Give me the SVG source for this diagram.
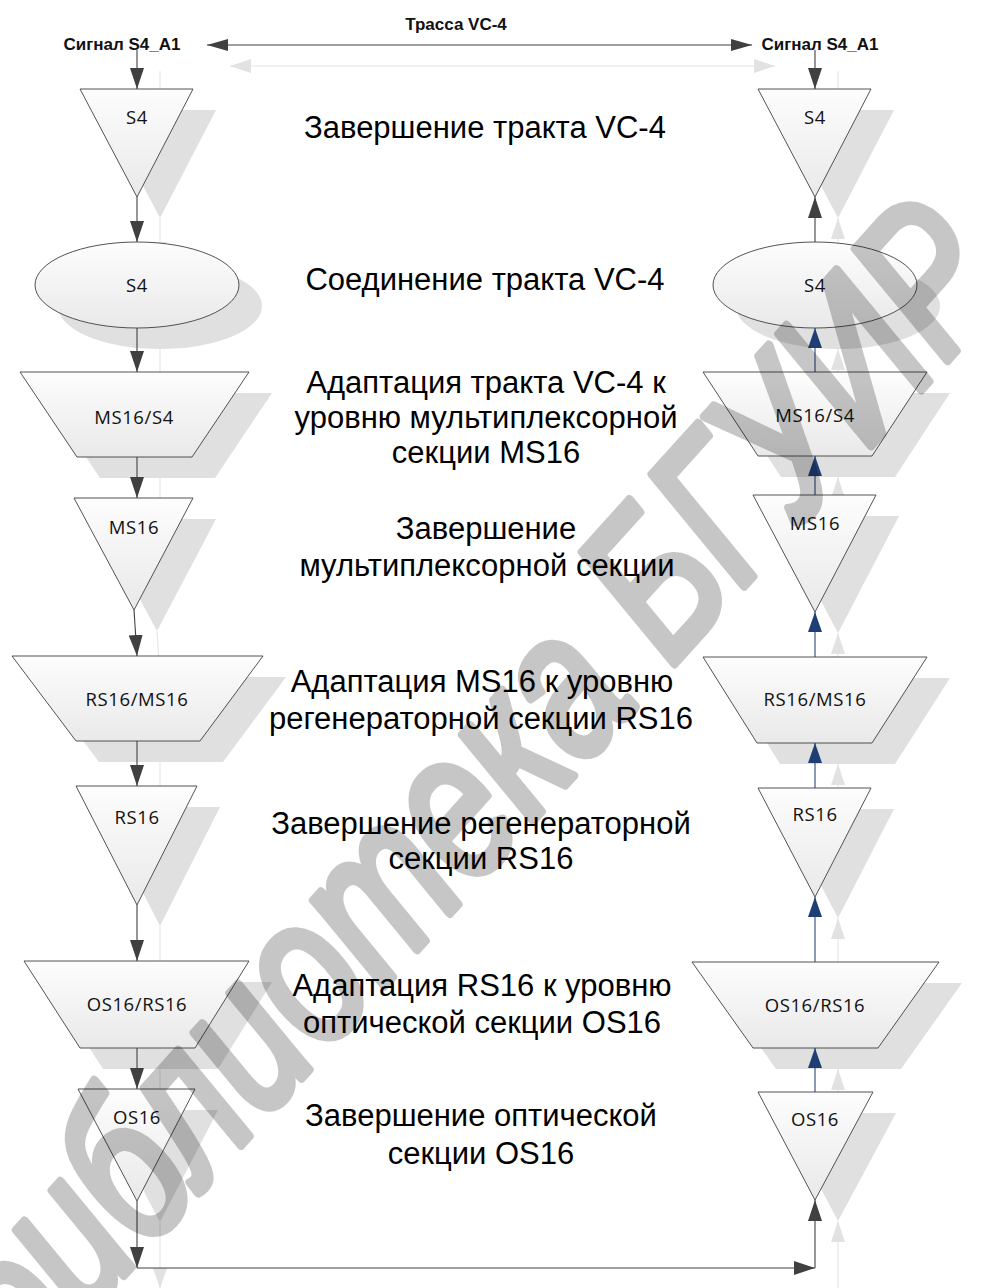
<svg xmlns="http://www.w3.org/2000/svg" width="1005" height="1288" viewBox="0 0 1005 1288">
  <style>
    .node { stroke: #404040; stroke-width: 0.9; fill: url(#nodeFill); }
    .shadow { fill: #e0e0e0; stroke: none; }
    .lbl { font-family: "Open Sans", "Liberation Sans", sans-serif; font-size: 18.5px; fill: #111; text-anchor: middle; letter-spacing: 0.6px; }
    .desc { font-family: "Liberation Sans", Arial, sans-serif; font-size: 31px; fill: #000; text-anchor: middle; }
    .head { font-family: "Liberation Sans", Arial, sans-serif; font-size: 17px; font-weight: bold; fill: #111; text-anchor: middle; }
    .wire { fill: none; stroke: #404040; stroke-width: 1.1; }
    .wire-blue { fill: none; stroke: #2a4878; stroke-width: 1.1; }
    .wire-shadow { fill: none; stroke: #e4e4e4; stroke-width: 1.1; }
    .mark { font-family: "Liberation Sans", Arial, sans-serif; font-style: italic; font-size: 160px; fill: #000; stroke: #000; stroke-width: 7; stroke-linejoin: round; }
  </style>
  <defs>
    <linearGradient id="nodeFill" x1="0" y1="0" x2="0" y2="1">
      <stop offset="0" stop-color="#fdfdfd"/>
      <stop offset="1" stop-color="#e9e9e9"/>
    </linearGradient>
    <marker id="arrDark" markerUnits="userSpaceOnUse" markerWidth="21" markerHeight="14" refX="21" refY="7" orient="auto">
      <path d="M0,0 L21,7 L0,14 z" fill="#404040"/>
    </marker>
    <marker id="arrDarkStart" markerUnits="userSpaceOnUse" markerWidth="21" markerHeight="12" refX="21" refY="6" orient="auto-start-reverse">
      <path d="M0,0 L21,6 L0,12 z" fill="#404040"/>
    </marker>
    <marker id="arrBlue" markerUnits="userSpaceOnUse" markerWidth="20" markerHeight="14" refX="20" refY="7" orient="auto">
      <path d="M0,0 L20,7 L0,14 z" fill="#1f3e74"/>
    </marker>
    <marker id="arrShadow" markerUnits="userSpaceOnUse" markerWidth="21" markerHeight="14" refX="21" refY="7" orient="auto-start-reverse">
      <path d="M0,0 L21,7 L0,14 z" fill="#e2e2e2"/>
    </marker>
  </defs>

  <!-- drop shadows of nodes and links -->
  <g id="shadows" transform="translate(23,21)">
    <g class="shadow">
      <polygon points="80,89 193,89 137,197"/>
      <ellipse cx="137" cy="285" rx="102" ry="43"/>
      <polygon points="20,372 249,372 192,457 77,457"/>
      <polygon points="74,498 193,498 134,610"/>
      <polygon points="12,656 263,656 200,741 76,741"/>
      <polygon points="76,786 197,786 137,905"/>
      <polygon points="24,961 249,961 195,1048 80,1048"/>
      <polygon points="78,1089 195,1089 137,1201"/>
      <polygon points="758,89 871,89 815,197"/>
      <ellipse cx="815" cy="285" rx="102" ry="43"/>
      <polygon points="703,372 927,372 872,456 758,456"/>
      <polygon points="753,495 876,495 815,612"/>
      <polygon points="703,657 927,657 872,743 757,743"/>
      <polygon points="758,788 871,788 815,897"/>
      <polygon points="692,962 939,962 878,1048 753,1048"/>
      <polygon points="758,1092 873,1092 815,1200"/>
    </g>
    <g class="wire-shadow" marker-end="url(#arrShadow)">
      <path d="M207,45 H752" marker-start="url(#arrShadow)"/>
      <path d="M137,50 V89"/>
      <path d="M137,197 V242"/>
      <path d="M137,328 V372"/>
      <path d="M137,457 V498"/>
      <path d="M134,610 L137,656"/>
      <path d="M137,741 V786"/>
      <path d="M137,905 V961"/>
      <path d="M137,1048 V1089"/>
      <path d="M137,1201 V1268"/>
      <path d="M815,50 V89"/>
      <path d="M815,242 V197"/>
      <path d="M815,372 V328"/>
      <path d="M815,495 V456"/>
      <path d="M815,657 V612"/>
      <path d="M815,788 V743"/>
      <path d="M815,962 V897"/>
      <path d="M815,1092 V1048"/>
      <path d="M815,1268 V1200"/>
    </g>
  </g>

  <!-- connectors -->
  <g id="connectors">
    <path class="wire" d="M207,45 H752" marker-start="url(#arrDarkStart)" marker-end="url(#arrDarkStart)"/>
    <g class="wire" marker-end="url(#arrDark)">
      <path d="M137,50 V89"/>
      <path d="M137,197 V242"/>
      <path d="M137,328 V372"/>
      <path d="M137,457 V498"/>
      <path d="M134,610 L137,656"/>
      <path d="M137,741 V786"/>
      <path d="M137,905 V961"/>
      <path d="M137,1048 V1089"/>
      <path d="M137,1201 V1268"/>
      <path d="M137,1268 H815"/>
      <path d="M815,1268 V1200"/>
      <path d="M815,50 V89"/>
      <path d="M815,242 V197"/>
    </g>
    <g class="wire-blue" marker-end="url(#arrBlue)">
      <path d="M815,372 V328"/>
      <path d="M815,495 V456"/>
      <path d="M815,657 V612"/>
      <path d="M815,788 V743"/>
      <path d="M815,962 V897"/>
      <path d="M815,1092 V1048"/>
    </g>
  </g>

  <!-- transmitting side -->
  <g id="tx-s4-term"><polygon class="node" points="80,89 193,89 137,197"/><text class="lbl" x="137" y="124">S4</text></g>
  <g id="tx-s4-conn"><ellipse class="node" cx="137" cy="285" rx="102" ry="43"/><text class="lbl" x="137" y="292">S4</text></g>
  <g id="tx-ms16-s4"><polygon class="node" points="20,372 249,372 192,457 77,457"/><text class="lbl" x="134" y="424">MS16/S4</text></g>
  <g id="tx-ms16"><polygon class="node" points="74,498 193,498 134,610"/><text class="lbl" x="134" y="534">MS16</text></g>
  <g id="tx-rs16-ms16"><polygon class="node" points="12,656 263,656 200,741 76,741"/><text class="lbl" x="137" y="706">RS16/MS16</text></g>
  <g id="tx-rs16"><polygon class="node" points="76,786 197,786 137,905"/><text class="lbl" x="137" y="824">RS16</text></g>
  <g id="tx-os16-rs16"><polygon class="node" points="24,961 249,961 195,1048 80,1048"/><text class="lbl" x="137" y="1011">OS16/RS16</text></g>
  <g id="tx-os16"><polygon class="node" points="78,1089 195,1089 137,1201"/><text class="lbl" x="137" y="1124">OS16</text></g>

  <!-- receiving side -->
  <g id="rx-s4-term"><polygon class="node" points="758,89 871,89 815,197"/><text class="lbl" x="815" y="124">S4</text></g>
  <g id="rx-s4-conn"><ellipse class="node" cx="815" cy="285" rx="102" ry="43"/><text class="lbl" x="815" y="292">S4</text></g>
  <g id="rx-ms16-s4"><polygon class="node" points="703,372 927,372 872,456 758,456"/><text class="lbl" x="815" y="422">MS16/S4</text></g>
  <g id="rx-ms16"><polygon class="node" points="753,495 876,495 815,612"/><text class="lbl" x="815" y="530">MS16</text></g>
  <g id="rx-rs16-ms16"><polygon class="node" points="703,657 927,657 872,743 757,743"/><text class="lbl" x="815" y="706">RS16/MS16</text></g>
  <g id="rx-rs16"><polygon class="node" points="758,788 871,788 815,897"/><text class="lbl" x="815" y="821">RS16</text></g>
  <g id="rx-os16-rs16"><polygon class="node" points="692,962 939,962 878,1048 753,1048"/><text class="lbl" x="815" y="1012">OS16/RS16</text></g>
  <g id="rx-os16"><polygon class="node" points="758,1092 873,1092 815,1200"/><text class="lbl" x="815" y="1126">OS16</text></g>

  <!-- headings -->
  <g id="headings">
    <text class="head" x="456" y="30">Трасса VC-4</text>
    <text class="head" x="122" y="50">Сигнал S4_A1</text>
    <text class="head" x="820" y="50">Сигнал S4_A1</text>
  </g>

  <!-- function descriptions -->
  <g id="descriptions">
    <text class="desc" x="485" y="138">Завершение тракта VC-4</text>
    <text class="desc" x="485" y="290">Соединение тракта VC-4</text>
    <text class="desc" x="486" y="393">Адаптация тракта VC-4 к</text>
    <text class="desc" x="486" y="428">уровню мультиплексорной</text>
    <text class="desc" x="486" y="463">секции MS16</text>
    <text class="desc" x="486" y="539">Завершение</text>
    <text class="desc" x="487" y="576">мультиплексорной секции</text>
    <text class="desc" x="482" y="692">Адаптация MS16 к уровню</text>
    <text class="desc" x="481" y="729">регенераторной секции RS16</text>
    <text class="desc" x="481" y="834">Завершение регенераторной</text>
    <text class="desc" x="481" y="869">секции RS16</text>
    <text class="desc" x="482" y="996">Адаптация RS16 к уровню</text>
    <text class="desc" x="482" y="1033">оптической секции OS16</text>
    <text class="desc" x="481" y="1126">Завершение оптической</text>
    <text class="desc" x="481" y="1164">секции OS16</text>
  </g>

  <!-- library watermark -->
  <g opacity="0.22">
    <text class="mark" transform="translate(25,1385) rotate(-48) scale(1,1.3)">библиотека БГУИР</text>
  </g>
</svg>
